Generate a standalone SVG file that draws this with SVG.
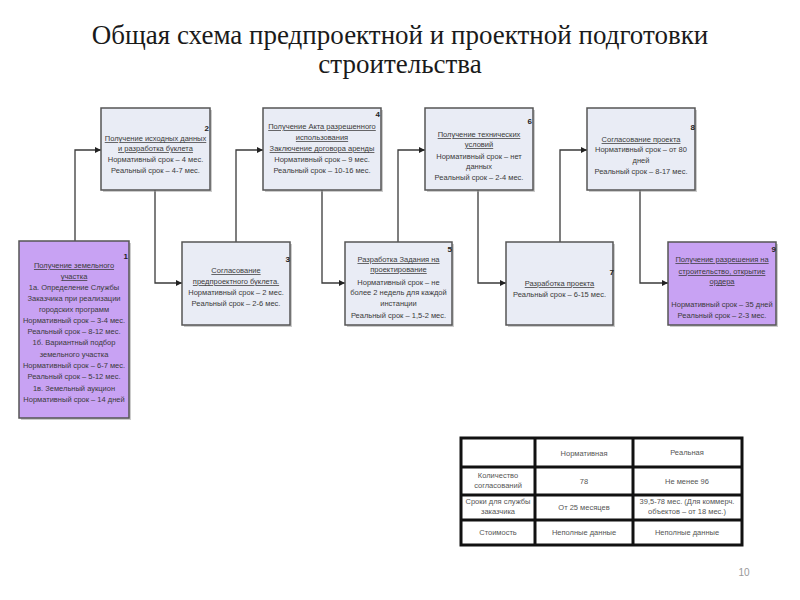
<svg xmlns="http://www.w3.org/2000/svg" width="800" height="600" viewBox="0 0 800 600">
<defs>
<style>
.title{font-family:"Liberation Serif","DejaVu Serif","Times New Roman",serif;font-size:27px;fill:#1a1a1a;text-anchor:middle}
.box{fill:#e9ecf5;stroke:#555;stroke-width:1.5}
.pbox{fill:#c8a2f3;stroke:#555;stroke-width:1.5}
.sh{fill:#9a9a9a;opacity:0.5}
.t{font-family:"Liberation Sans",Arial,sans-serif;font-size:7.5px;fill:#3a3a3a;text-anchor:middle}
.u{text-decoration:underline}
.n{font-family:"Liberation Sans",Arial,sans-serif;font-size:8px;font-weight:bold;fill:#222;text-anchor:end}
.con{fill:none;stroke:#3a3a3a;stroke-width:1.3;marker-end:url(#ah)}
.tb{fill:#fff;stroke:#111;stroke-width:3}
.tl{stroke:#111;stroke-width:3}
.tt{font-family:"Liberation Sans",Arial,sans-serif;font-size:7.5px;fill:#555;text-anchor:middle}
.pg{font-family:"Liberation Sans",Arial,sans-serif;font-size:10px;fill:#999;text-anchor:middle}
</style>
<marker id="ah" markerWidth="6" markerHeight="6" refX="6" refY="3" orient="auto" markerUnits="userSpaceOnUse">
<path d="M0,0 L6,3 L0,6 Z" fill="#222"/>
</marker>
</defs>
<rect width="800" height="600" fill="#fff"/>
<text class="title" x="400" y="44">Общая схема предпроектной и проектной подготовки</text>
<text class="title" x="400" y="73">строительства</text>

<g id="connectors">
<path class="con" d="M75,241 V150 H101"/>
<path class="con" d="M155,190 V283 H182"/>
<path class="con" d="M236,242 V150 H263"/>
<path class="con" d="M322,190 V283 H345"/>
<path class="con" d="M398,242 V150 H425"/>
<path class="con" d="M478,190 V283 H506"/>
<path class="con" d="M560,242 V150 H587"/>
<path class="con" d="M640,190 V283 H668"/>
</g>

<g id="node1">
<rect class="sh" x="21" y="243" width="110" height="177"/>
<rect class="pbox" x="19" y="241" width="110" height="177"/>
<text class="n" x="128" y="259">1</text>
<text class="t" x="74" y="268"><tspan class="u">Получение земельного</tspan></text>
<text class="t" x="74" y="279"><tspan class="u">участка</tspan></text>
<text class="t" x="74" y="290">1а. Определение Службы</text>
<text class="t" x="74" y="301">Заказчика при реализации</text>
<text class="t" x="74" y="312">городских программ</text>
<text class="t" x="74" y="323">Нормативный срок – 3-4 мес.</text>
<text class="t" x="74" y="334">Реальный срок – 8-12 мес.</text>
<text class="t" x="74" y="345">1б. Вариантный подбор</text>
<text class="t" x="74" y="357">земельного участка</text>
<text class="t" x="74" y="368">Нормативный срок – 6-7 мес.</text>
<text class="t" x="74" y="379">Реальный срок – 5-12 мес.</text>
<text class="t" x="74" y="391">1в. Земельный аукцион</text>
<text class="t" x="74" y="402">Нормативный срок – 14 дней</text>
</g>

<g id="node2">
<rect class="sh" x="103" y="110" width="109" height="82"/>
<rect class="box" x="101" y="108" width="109" height="82"/>
<text class="n" x="209" y="131">2</text>
<text class="t" x="155.5" y="141"><tspan class="u">Получение исходных данных</tspan></text>
<text class="t" x="155.5" y="151"><tspan class="u">и разработка буклета</tspan></text>
<text class="t" x="155.5" y="162">Нормативный срок – 4 мес.</text>
<text class="t" x="155.5" y="173">Реальный срок – 4-7 мес.</text>
</g>

<g id="node3">
<rect class="sh" x="184" y="244" width="108" height="83"/>
<rect class="box" x="182" y="242" width="108" height="83"/>
<text class="n" x="290" y="262">3</text>
<text class="t" x="236" y="273"><tspan class="u">Согласование</tspan></text>
<text class="t" x="236" y="284"><tspan class="u">предпроектного буклета.</tspan></text>
<text class="t" x="236" y="295">Нормативный срок – 2 мес.</text>
<text class="t" x="236" y="306">Реальный срок – 2-6 мес.</text>
</g>

<g id="node4">
<rect class="sh" x="265" y="110" width="118" height="82"/>
<rect class="box" x="263" y="108" width="118" height="82"/>
<text class="n" x="380" y="117">4</text>
<text class="t" x="322" y="129"><tspan class="u">Получение Акта разрешенного</tspan></text>
<text class="t" x="322" y="140"><tspan class="u">использования</tspan></text>
<text class="t" x="322" y="151"><tspan class="u">Заключение договора аренды</tspan></text>
<text class="t" x="322" y="162">Нормативный срок – 9 мес.</text>
<text class="t" x="322" y="173">Реальный срок – 10-16 мес.</text>
</g>

<g id="node5">
<rect class="sh" x="347" y="244" width="107" height="83"/>
<rect class="box" x="345" y="242" width="107" height="83"/>
<text class="n" x="452" y="252">5</text>
<text class="t" x="398.5" y="262"><tspan class="u">Разработка Задания на</tspan></text>
<text class="t" x="398.5" y="272"><tspan class="u">проектирование</tspan></text>
<text class="t" x="398.5" y="285">Нормативный срок –  не</text>
<text class="t" x="398.5" y="295">более 2 недель для каждой</text>
<text class="t" x="398.5" y="306">инстанции</text>
<text class="t" x="398.5" y="318">Реальный срок – 1,5-2 мес.</text>
</g>

<g id="node6">
<rect class="sh" x="427" y="110" width="108" height="82"/>
<rect class="box" x="425" y="108" width="108" height="82"/>
<text class="n" x="532" y="124">6</text>
<text class="t" x="479" y="137"><tspan class="u">Получение технических</tspan></text>
<text class="t" x="479" y="147"><tspan class="u">условий</tspan></text>
<text class="t" x="479" y="159">Нормативный срок – нет</text>
<text class="t" x="479" y="169">данных</text>
<text class="t" x="479" y="180">Реальный срок – 2-4 мес.</text>
</g>

<g id="node7">
<rect class="sh" x="508" y="244" width="107" height="83"/>
<rect class="box" x="506" y="242" width="107" height="83"/>
<text class="n" x="614" y="275">7</text>
<text class="t" x="559.5" y="286"><tspan class="u">Разработка проекта</tspan></text>
<text class="t" x="559.5" y="297">Реальный срок – 6-15 мес.</text>
</g>

<g id="node8">
<rect class="sh" x="589" y="110" width="108" height="82"/>
<rect class="box" x="587" y="108" width="108" height="82"/>
<text class="n" x="695" y="130">8</text>
<text class="t" x="641" y="142"><tspan class="u">Согласование проекта</tspan></text>
<text class="t" x="641" y="152">Нормативный срок – от 80</text>
<text class="t" x="641" y="163">дней</text>
<text class="t" x="641" y="174">Реальный срок – 8-17 мес.</text>
</g>

<g id="node9">
<rect class="sh" x="670" y="244" width="108" height="83"/>
<rect class="pbox" x="668" y="242" width="108" height="83"/>
<text class="n" x="776" y="252">9</text>
<text class="t" x="722" y="262"><tspan class="u">Получение разрешения на</tspan></text>
<text class="t" x="722" y="274"><tspan class="u">строительство, открытие</tspan></text>
<text class="t" x="722" y="284"><tspan class="u">ордера</tspan></text>
<text class="t" x="722" y="307">Нормативный срок – 35 дней</text>
<text class="t" x="722" y="318">Реальный срок – 2-3 мес.</text>
</g>

<g id="table">
<rect class="tb" x="461" y="438" width="281" height="107"/>
<line class="tl" x1="535" y1="438" x2="535" y2="545"/>
<line class="tl" x1="633" y1="438" x2="633" y2="545"/>
<line class="tl" x1="461" y1="467" x2="742" y2="467"/>
<line class="tl" x1="461" y1="495" x2="742" y2="495"/>
<line class="tl" x1="461" y1="520" x2="742" y2="520"/>
<text class="tt" x="584" y="456">Нормативная</text>
<text class="tt" x="687" y="455">Реальная</text>
<text class="tt" x="498" y="478">Количество</text>
<text class="tt" x="498" y="488">согласований</text>
<text class="tt" x="584" y="484">78</text>
<text class="tt" x="687" y="484">Не менее 96</text>
<text class="tt" x="498" y="504">Сроки для службы</text>
<text class="tt" x="498" y="514">заказчика</text>
<text class="tt" x="584" y="510">От 25 месяцев</text>
<text class="tt" x="687" y="504">39,5-78 мес. (Для коммерч.</text>
<text class="tt" x="687" y="514">объектов – от 18 мес.)</text>
<text class="tt" x="498" y="535">Стоимость</text>
<text class="tt" x="584" y="535">Неполные данные</text>
<text class="tt" x="687" y="535">Неполные данные</text>
</g>

<text class="pg" x="744" y="576">10</text>
</svg>
